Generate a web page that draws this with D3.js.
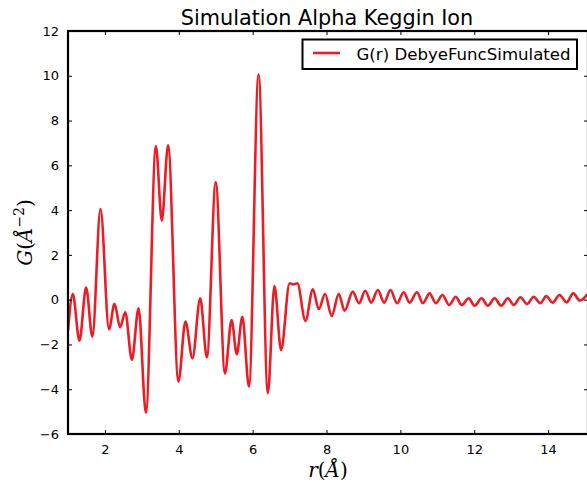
<!DOCTYPE html>
<html>
<head>
<meta charset="utf-8">
<script src="https://cdn.jsdelivr.net/npm/d3@7"></script>
<style>
  html, body { margin: 0; padding: 0; background: #fff; }
  svg { display: block; }
</style>
</head>
<body>
<svg id="chart" width="587" height="486"></svg>
<script>
// ---- data (extrema of G(r)) ----
const rValues = [1.0, 1.13, 1.31, 1.49, 1.66, 1.88, 2.11, 2.26, 2.41, 2.55,
  2.73, 2.91, 3.11, 3.38, 3.54, 3.71, 3.99, 4.18, 4.37, 4.58,
  4.76, 5.0, 5.25, 5.43, 5.57, 5.72, 5.90, 6.16, 6.41, 6.59,
  6.77, 7.0, 7.1, 7.21, 7.43, 7.63, 7.79, 7.96, 8.14, 8.33,
  8.49, 8.71, 8.88, 9.05, 9.21, 9.39, 9.56, 9.73, 9.91, 10.09,
  10.25, 10.45, 10.61, 10.79, 10.96, 11.14, 11.32, 11.5, 11.66, 11.85,
  12.01, 12.2, 12.37, 12.55, 12.73, 12.91, 13.07, 13.25, 13.43, 13.61,
  13.79, 13.95, 14.12, 14.31, 14.5, 14.68, 14.86, 15.06];
const gValues = [-1.4, 0.25, -1.83, 0.54, -1.65, 4.05, -1.32, -0.19, -1.23, -0.56,
  -2.69, -0.39, -5.05, 6.86, 3.53, 6.9, -3.66, -0.98, -2.62, 0.06,
  -2.57, 5.24, -3.29, -0.91, -2.44, -0.76, -3.88, 10.07, -4.18, 0.61,
  -2.25, 0.73, 0.68, 0.73, -0.95, 0.46, -0.42, 0.25, -0.73, 0.25,
  -0.49, 0.36, -0.16, 0.40, -0.13, 0.43, -0.13, 0.43, -0.16, 0.33,
  -0.13, 0.33, -0.16, 0.28, -0.16, 0.21, -0.24, 0.13, -0.24, 0.06,
  -0.27, 0.06, -0.27, 0.06, -0.27, 0.06, -0.24, 0.11, -0.2, 0.13,
  -0.16, 0.16, -0.13, 0.21, -0.12, 0.28, -0.04, 0.24];
const xTicks = [2, 4, 6, 8, 10, 12, 14];
const yTicks = [-6, -4, -2, 0, 2, 4, 6, 8, 10, 12];
const xDomain = [1, 15.08];
const yDomain = [-6, 12];
const seriesName = "G(r) DebyeFuncSimulated";
const titleText = "Simulation Alpha Keggin Ion";

// ---- layout ----
const L = 68, R = 588, T = 31, B = 434;
const lineColor = "#ed1c24";
const svg = d3.select("#chart");

const x = d3.scaleLinear().domain(xDomain).range([L, R]);
const y = d3.scaleLinear().domain(yDomain).range([B, T]);

const data = rValues.map((r, i) => ({ r, g: gValues[i] }));

svg.append("defs").append("clipPath").attr("id", "clip")
  .append("rect").attr("x", L).attr("y", T).attr("width", R - L).attr("height", B - T);

const line = d3.line().x(d => x(d.r)).y(d => y(d.g)).curve(d3.curveMonotoneX);
svg.append("path").datum(data)
  .attr("clip-path", "url(#clip)")
  .attr("d", line)
  .attr("fill", "none")
  .attr("stroke", lineColor)
  .attr("stroke-width", 2.6)
  .attr("stroke-linejoin", "round");

// ---- axes (ticks inward on all sides) ----
function styleAxis(g) {
  g.select(".domain").remove();
  g.selectAll(".tick line").attr("stroke", "#000").attr("stroke-width", 1);
  g.selectAll(".tick text").attr("fill", "#000")
    .attr("font-family", "DejaVu Sans, sans-serif").attr("font-size", "13px");
}
const fmt = d3.format("d");
svg.append("g").attr("transform", `translate(0,${B})`)
  .call(d3.axisBottom(x).tickValues(xTicks).tickFormat(fmt).tickSizeInner(-4).tickSizeOuter(0).tickPadding(11))
  .call(styleAxis);
svg.append("g").attr("transform", `translate(0,${T})`)
  .call(d3.axisTop(x).tickValues(xTicks).tickFormat("").tickSizeInner(-4).tickSizeOuter(0))
  .call(styleAxis);
svg.append("g").attr("transform", `translate(${L},0)`)
  .call(d3.axisLeft(y).tickValues(yTicks).tickFormat(fmt).tickSizeInner(-4).tickSizeOuter(0).tickPadding(9))
  .call(styleAxis);
svg.append("g").attr("transform", `translate(${R},0)`)
  .call(d3.axisRight(y).tickValues(yTicks).tickFormat("").tickSizeInner(-4).tickSizeOuter(0))
  .call(styleAxis);

// spines
svg.append("rect").attr("x", L).attr("y", T).attr("width", R - L).attr("height", B - T)
  .attr("fill", "none").attr("stroke", "#000").attr("stroke-width", 2.2);

// ---- title ----
svg.append("text").attr("x", (L + R) / 2 - 1).attr("y", 25)
  .attr("text-anchor", "middle")
  .attr("font-family", "DejaVu Sans, sans-serif").attr("font-size", "20.8px")
  .attr("fill", "#000").text(titleText);

// ---- axis labels ----
const xl = svg.append("text").attr("x", (L + R) / 2).attr("y", 477)
  .attr("text-anchor", "middle")
  .attr("font-family", "DejaVu Serif, serif").attr("font-size", "20px").attr("fill", "#000");
xl.append("tspan").attr("font-style", "italic").text("r");
xl.append("tspan").text("(");
xl.append("tspan").attr("font-style", "italic").text("Å");
xl.append("tspan").text(")");

const yl = svg.append("text")
  .attr("transform", `translate(32,${(T + B) / 2}) rotate(-90)`)
  .attr("text-anchor", "middle")
  .attr("font-family", "DejaVu Serif, serif").attr("font-size", "20px").attr("fill", "#000");
yl.append("tspan").attr("font-style", "italic").text("G");
yl.append("tspan").text("(");
yl.append("tspan").attr("font-style", "italic").text("Å");
yl.append("tspan").attr("font-size", "14px").attr("dy", -8).text("−2");
yl.append("tspan").attr("dy", 8).text(")");

// ---- legend ----
const lg = svg.append("g");
lg.append("rect").attr("x", 302.5).attr("y", 39.5).attr("width", 274.5).attr("height", 29.5)
  .attr("fill", "#fff").attr("stroke", "#000").attr("stroke-width", 2);
lg.append("line").attr("x1", 313).attr("x2", 340).attr("y1", 53).attr("y2", 53)
  .attr("stroke", lineColor).attr("stroke-width", 2.6);
lg.append("text").attr("x", 356.5).attr("y", 59.5)
  .attr("font-family", "DejaVu Sans, sans-serif").attr("font-size", "16.6px")
  .attr("fill", "#000").text(seriesName);
</script>
</body>
</html>
